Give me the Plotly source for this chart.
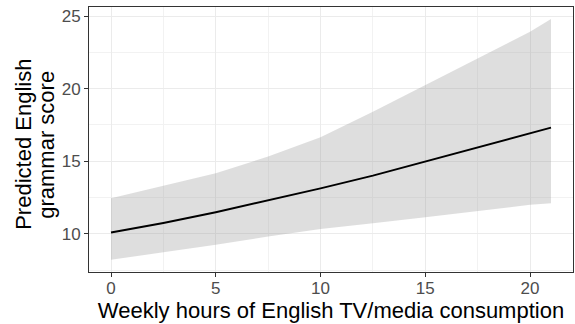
import plotly.graph_objects as go

hours = [0, 2.5, 5, 7.5, 10, 12.5, 15, 17.5, 20, 21]
fit = [10.09, 10.75, 11.49, 12.29, 13.13, 14.01, 14.98, 16.0, 16.97, 17.32]
lower = [8.21, 8.73, 9.24, 9.81, 10.33, 10.73, 11.15, 11.6, 12.0, 12.11]
upper = [12.46, 13.3, 14.18, 15.32, 16.65, 18.42, 20.25, 22.1, 23.92, 24.8]

x_ticks = [0, 5, 10, 15, 20]
y_ticks = [10, 15, 20, 25]
x_title = "Weekly hours of English TV/media consumption"
y_title_lines = ["Predicted English", "grammar score"]

FONT = "Liberation Sans, Arial, sans-serif"

fig = go.Figure()
fig.add_trace(go.Scatter(x=hours + hours[::-1], y=upper + lower[::-1],
                         fill="toself", fillcolor="rgba(153,153,153,0.32)",
                         line=dict(width=0), mode="lines", hoverinfo="skip",
                         showlegend=False))
fig.add_trace(go.Scatter(x=hours, y=fit, mode="lines",
                         line=dict(color="black", width=1.9), showlegend=False))

axis_common = dict(
    showline=True, mirror=True, linecolor="#333333", linewidth=1,
    ticks="outside", ticklen=4, tickcolor="#333333", tickwidth=1,
    showgrid=True, gridcolor="#EBEBEB", gridwidth=1.2,
    zeroline=False,
    tickfont=dict(family=FONT, size=17, color="#4D4D4D"),
    minor=dict(showgrid=True, gridcolor="#F2F2F2", gridwidth=0.7, ticks=""),
)

fig.update_layout(
    width=575, height=324,
    margin=dict(l=89, r=2, t=7, b=52),
    paper_bgcolor="white", plot_bgcolor="white",
    font=dict(family=FONT),
    xaxis=dict(range=[-1.05, 22.05], tickvals=x_ticks, ticklabelstandoff=-3,
               title=dict(text=x_title, font=dict(family=FONT, size=22, color="black"),
                          standoff=5),
               **axis_common),
    yaxis=dict(range=[7.37, 25.63], tickvals=y_ticks, ticklabelstandoff=0, **axis_common),
)

fig.update_xaxes(minor=dict(tickvals=[2.5, 7.5, 12.5, 17.5]))
fig.update_yaxes(minor=dict(tickvals=[7.5, 12.5, 17.5, 22.5]))

for i, (line, px) in enumerate(zip(y_title_lines, [24, 47])):
    fig.add_annotation(text=line, textangle=-90, showarrow=False,
                       xref="paper", yref="paper",
                       x=(px - 89) / 484, y=0.48,
                       xanchor="center", yanchor="middle",
                       font=dict(family=FONT, size=22, color="black"))

fig.write_html("out.html")
